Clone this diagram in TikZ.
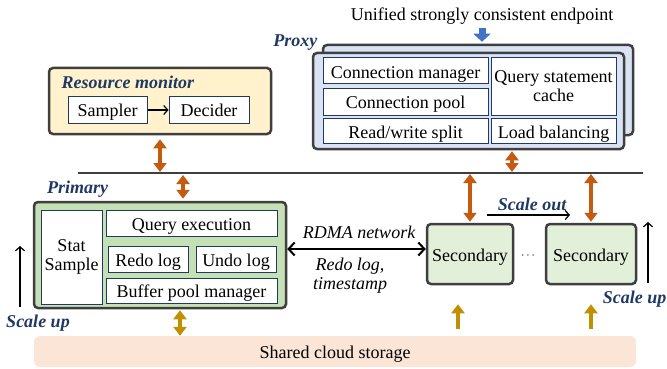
\documentclass[tikz,border=0pt]{standalone}
\usepackage{fontspec}
\setmainfont{Liberation Serif}
\usetikzlibrary{arrows.meta, positioning}
\definecolor{framegray}{HTML}{3F3F3F}
\definecolor{innerblue}{HTML}{1F3864}
\definecolor{lblblue}{HTML}{203864}
\definecolor{proxyfill}{HTML}{DAE3F3}
\definecolor{monfill}{HTML}{FFF2CC}
\definecolor{primfill}{HTML}{C5E0B4}
\definecolor{secfill}{HTML}{E2F0D9}
\definecolor{storfill}{HTML}{FBE5D6}
\definecolor{arrorange}{HTML}{C55A11}
\definecolor{arrgold}{HTML}{BF9000}
\definecolor{arrblue}{HTML}{4472C4}

\begin{document}
\begin{tikzpicture}[x=1pt,y=-1pt,font=\fontsize{18}{19}\selectfont,
  outerbox/.style={draw=framegray, line width=2.5pt, rounded corners=4pt, inner sep=0pt},
  innerbox/.style={draw=innerblue, line width=1pt, fill=white, inner sep=0pt, align=center},
  lowtext/.style={text height=15pt, text depth=1pt},
  lbl/.style={text=lblblue, font=\fontsize{18}{19}\selectfont\bfseries\itshape},
  orarr/.style={draw=arrorange, line width=4pt, {Triangle[length=9pt,width=13pt]}-{Triangle[length=9pt,width=13pt]}},
  goldarr/.style={draw=arrgold, line width=4pt, {Triangle[length=9pt,width=13pt]}-{Triangle[length=9pt,width=13pt]}},
  goldup/.style={draw=arrgold, line width=4pt, -{Triangle[length=9pt,width=13pt]}},
  bluearr/.style={draw=arrblue, line width=7pt, -{Triangle[length=8pt,width=17pt]}},
  thinarr/.style={line width=1.2pt, -{Straight Barb[length=4pt,width=9pt]}}]

\useasboundingbox (0,0) rectangle (667,369);

% proxy
\node (endpt) at (482,16) {Unified strongly consistent endpoint};
\node[outerbox, fill=proxyfill, minimum width=310pt, minimum height=90pt] (proxyback) at (478,90) {};
\node[outerbox, fill=proxyfill, minimum width=311pt, minimum height=96pt] (proxy) at (468.5,101) {};
\node[lbl, anchor=east] (proxylbl) at (321,43) {Proxy};
\node[innerbox, lowtext, minimum width=165pt, minimum height=26pt] (connmgr) at (405.5,71) {Connection manager};
\node[innerbox, lowtext, minimum width=165pt, minimum height=26pt] (connpool) at (405.5,102) {Connection pool};
\node[innerbox, lowtext, minimum width=165pt, minimum height=25pt] (rwsplit) at (405.5,131) {Read/write split};
\node[innerbox, minimum width=125pt, minimum height=57pt] (qcache) at (553.5,86.5) {Query statement\\cache};
\node[innerbox, lowtext, minimum width=125pt, minimum height=25pt] (loadbal) at (553.5,131) {Load balancing};
\draw[bluearr, shorten >=2pt] (endpt.south) -- (endpt.south |- proxyback.north);

% resource monitor
\node[outerbox, fill=monfill, minimum width=222pt, minimum height=66pt] (monitor) at (160,101) {};
\node[lbl, anchor=west] (monlbl) at (58,82) {Resource monitor};
\node[innerbox, lowtext, minimum width=79pt, minimum height=26pt] (sampler) at (107.5,110) {Sampler};
\node[innerbox, lowtext, minimum width=80pt, minimum height=26pt] (decider) at (209,110) {Decider};
\draw[thinarr] (sampler) -- (decider);

% bus
\coordinate (busL) at (78,173);
\coordinate (busR) at (643,173);
\coordinate (busP) at (183,173);
\coordinate (busX) at (512,173);
\draw[framegray, line width=1.5pt] (busL) -- (busR);

% primary
\node[lbl] (primlbl) at (77.5,189) {Primary};
\node[outerbox, fill=primfill, minimum width=252pt, minimum height=106pt] (primary) at (160,255) {};
\node[innerbox, minimum width=61pt, minimum height=94pt] (stat) at (71.5,257) {Stat\\Sample};
\node[innerbox, lowtext, minimum width=171pt, minimum height=26pt] (qexec) at (191.5,223) {Query execution};
\node[innerbox, lowtext, minimum width=80pt, minimum height=26pt] (redo) at (148,259) {Redo log};
\node[innerbox, lowtext, minimum width=80pt, minimum height=26pt] (undo) at (236,259) {Undo log};
\node[innerbox, lowtext, minimum width=171pt, minimum height=25pt] (bufpool) at (191.5,290.5) {Buffer pool manager};

% secondaries
\node[outerbox, lowtext, fill=secfill, minimum width=86pt, minimum height=60pt] (sec1) at (470,254) {Secondary};
\node[outerbox, lowtext, fill=secfill, minimum width=90pt, minimum height=60pt] (sec2) at (591,254) {Secondary};
\node[font=\fontsize{12}{12}\selectfont] (dots) at (528,256) {$\cdots$};

% storage
\node[fill=storfill, lowtext, rounded corners=6pt, minimum width=602pt, minimum height=31pt] (storage) at (335,351.5) {Shared cloud storage};

% connections
\draw[orarr, shorten <=4pt, shorten >=1pt] (monitor.south) -- (monitor.south |- busL);
\draw[orarr, shorten <=2pt, shorten >=2pt] (busP) -- (busP |- primary.north);
\draw[orarr, shorten <=1pt, shorten >=1pt] (busX |- proxy.south) -- (busX);
\draw[orarr, shorten <=1pt, shorten >=1pt] (sec1.north |- busL) -- (sec1.north);
\draw[orarr, shorten <=1pt, shorten >=1pt] (sec2.north |- busL) -- (sec2.north);
\draw[goldarr, shorten <=1pt] ([xshift=20pt]primary.south) -- ([xshift=20pt]primary.south |- storage.north);
\draw[goldup, shorten <=7pt, shorten >=19pt] ([xshift=-12pt]sec1.south |- storage.north) -- ([xshift=-12pt]sec1.south);
\draw[goldup, shorten <=7pt, shorten >=19pt] (sec2.south |- storage.north) -- (sec2.south);

\draw[line width=2pt, {Straight Barb[length=6pt,width=13pt]}-{Straight Barb[length=6pt,width=13pt]}]
  ([yshift=5pt]sec1.west -| primary.east) -- ([yshift=5pt]sec1.west);
\node[font=\fontsize{18}{19}\selectfont\itshape] (rdma) at (359,232) {RDMA network};
\node[font=\fontsize{18}{19}\selectfont\itshape, align=center] (redots) at (350,275.5) {Redo log,\\timestamp};

% scaling
\node[lbl] (scoutlbl) at (532,204) {Scale out};
\coordinate (soA) at (487,215);
\coordinate (soB) at (570,215);
\draw[thinarr] (soA) -- (soB);
\coordinate (suA) at (20,307);
\coordinate (suB) at (20,246);
\draw[thinarr] (suA) -- (suB);
\node[lbl] (sulbl) at (38,323) {Scale up};
\coordinate (suC) at (648,283);
\coordinate (suD) at (648,222);
\draw[thinarr] (suC) -- (suD);
\node[lbl, anchor=east, inner sep=0pt] (sulbl2) at (666.5,299) {Scale up};

\end{tikzpicture}
\end{document}
